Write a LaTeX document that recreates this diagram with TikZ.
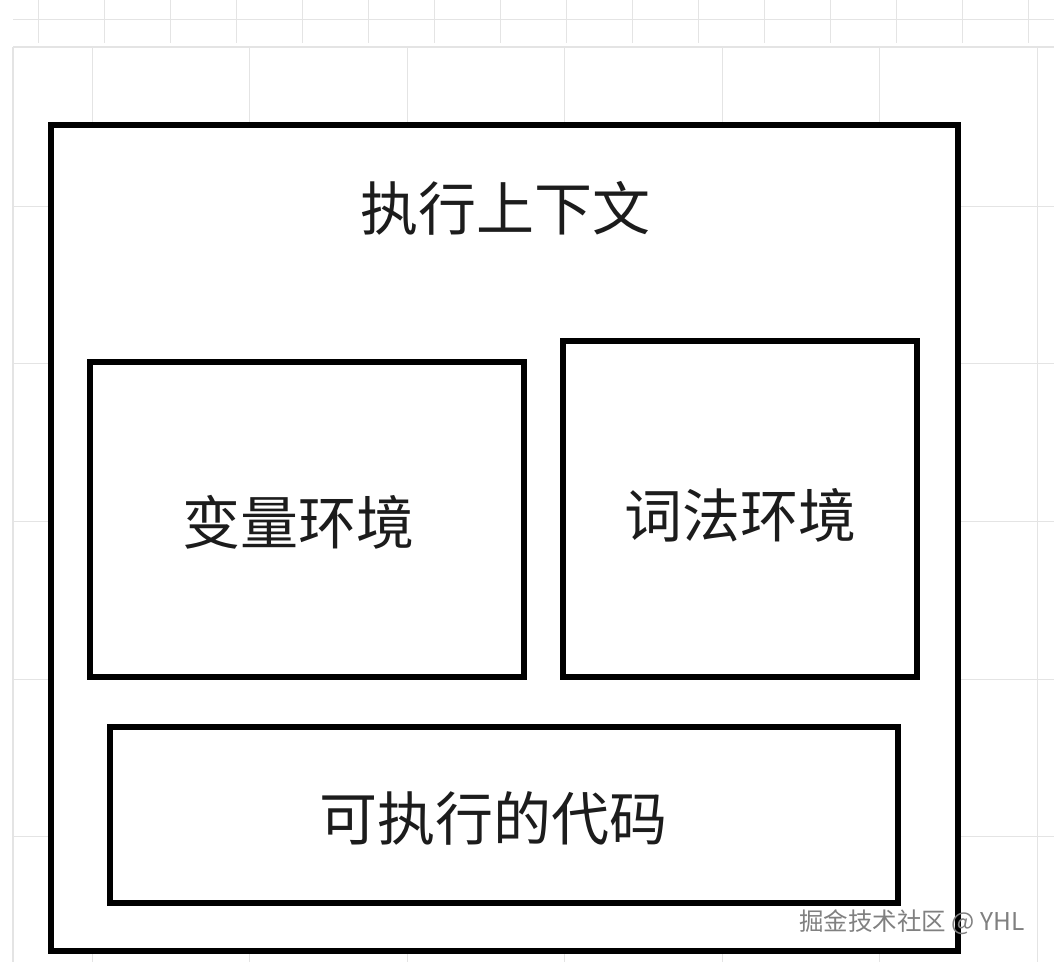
\documentclass[tikz,border=0pt]{standalone}
\usepackage{fontspec}
\newfontfamily\cjk{Noto Sans CJK SC}
\definecolor{gridline}{HTML}{E4E4E4}
\definecolor{ink}{HTML}{1C1C1C}
\begin{document}
\begin{tikzpicture}[x=1pt, y=-1pt,
        box/.style={draw=black, line width=6pt, rectangle, inner sep=0pt},
        word/.style={text=ink, inner sep=0pt, font=\cjk\fontsize{58}{60}\selectfont}]

        \useasboundingbox (0, 0) rectangle (1054, 962);
        \fill[white] (0, 0) rectangle (1054, 962);

        % grid behind the boxes
        \foreach \x in {0, 1, ..., 15}
        {
                \draw[gridline, line width=1pt] (38+66*\x, 0) -- (38+66*\x, 43);
        }
        \draw[gridline, line width=1pt] (13, 19) -- (1054, 19);
        \draw[gridline, line width=1.5pt] (13, 47) -- (1054, 47);
        \draw[gridline, line width=1.5pt] (13, 47) -- (13, 962);
        \foreach \x in {0, 1, ..., 6}
        {
                \draw[gridline, line width=1pt] (92+157.5*\x, 47) -- (92+157.5*\x, 962);
        }
        \foreach \y in {0, 1, ..., 4}
        {
                \draw[gridline, line width=1pt] (13, 206+157.7*\y) -- (1054, 206+157.7*\y);
        }

        \node[box, fill=white, minimum width=907, minimum height=826] (context) at (504.5, 538) {};
        \node[word] (title) at (505, 208) {执行上下文};

        \node[box, minimum width=434, minimum height=315] (varenv) at (307, 519.5) {};
        \node[word] (varenvtext) at (298, 522) {变量环境};

        \node[box, minimum width=354, minimum height=336] (lexenv) at (740, 509) {};
        \node[word] (lexenvtext) at (740, 515) {词法环境};

        \node[box, minimum width=788, minimum height=176] (code) at (504, 814.5) {};
        \node[word] (codetext) at (493, 818) {可执行的代码};

        \node[text=black!50, inner sep=0pt, font=\cjk\fontsize{24.5}{26}\selectfont] (mark) at (912, 922) {掘金技术社区 @ YHL};

\end{tikzpicture}
\end{document}
